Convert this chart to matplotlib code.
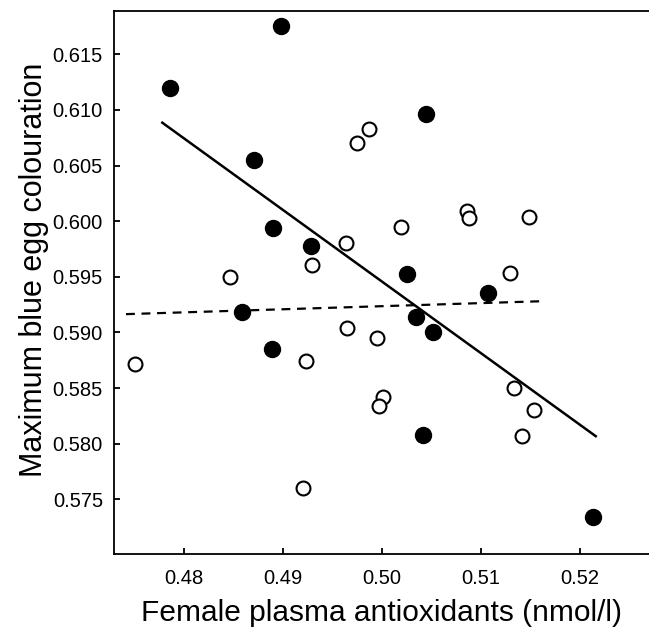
import matplotlib
matplotlib.use("Agg")
import matplotlib.pyplot as plt
import numpy as np

plt.rcParams['font.family'] = ['Liberation Sans', 'DejaVu Sans']

# Filled circles
filled_x = [0.47859, 0.48980, 0.48707, 0.48900, 0.49283, 0.48586, 0.48889,
            0.50444, 0.50249, 0.51074, 0.50340, 0.50512, 0.50411, 0.52128]
filled_y = [0.61193, 0.61750, 0.60546, 0.59934, 0.59773, 0.59187, 0.58855,
            0.60967, 0.59521, 0.59350, 0.59141, 0.59006, 0.58082, 0.57343]

# Open circles
open_x = [0.47502, 0.48465, 0.49290, 0.49229, 0.49205, 0.49747, 0.49869,
          0.49640, 0.50195, 0.50856, 0.50879, 0.51488, 0.51293, 0.49650,
          0.49953, 0.50013, 0.49973, 0.51333, 0.51539, 0.51411]
open_y = [0.58718, 0.59500, 0.59604, 0.58741, 0.57603, 0.60705, 0.60824,
          0.59802, 0.59946, 0.60093, 0.60024, 0.60033, 0.59530, 0.59038,
          0.58952, 0.58421, 0.58334, 0.58496, 0.58298, 0.58067]

# Regression lines (endpoints)
solid_x = [0.47781, 0.52159]
solid_y = [0.60885, 0.58067]
dashed_x = [0.47414, 0.51640]
dashed_y = [0.59164, 0.59281]

xticks = [0.48, 0.49, 0.50, 0.51, 0.52]
xtick_labels = ["0.48", "0.49", "0.50", "0.51", "0.52"]
yticks = [0.575, 0.580, 0.585, 0.590, 0.595, 0.600, 0.605, 0.610, 0.615]
ytick_labels = ["0.575", "0.580", "0.585", "0.590", "0.595", "0.600", "0.605", "0.610", "0.615"]

fig = plt.figure(figsize=(6.49, 6.32), dpi=100)
ax = fig.add_axes([114/649, 1-554/632, 1-114/649, (554-11)/632])

ax.plot(solid_x, solid_y, color='black', lw=1.8, zorder=2)
ax.plot(dashed_x, dashed_y, color='black', lw=1.6, ls=(0, (4, 3)), zorder=2)
ax.plot(open_x, open_y, 'o', ms=10, mfc='white', mec='black', mew=1.5, ls='none', zorder=3)
ax.plot(filled_x, filled_y, 'o', ms=11.5, mfc='black', mec='black', ls='none', zorder=4)

ax.set_xlim(0.47293, 0.52697)
ax.set_ylim(0.57008, 0.61889)
ax.set_xticks(xticks)
ax.set_xticklabels(xtick_labels)
ax.set_yticks(yticks)
ax.set_yticklabels(ytick_labels)

ax.tick_params(direction='in', length=4, width=1.3, labelsize=14.5)
ax.tick_params(axis='x', pad=11)
ax.tick_params(axis='y', pad=8)

for s in ['left', 'bottom', 'top']:
    ax.spines[s].set_linewidth(1.3)
ax.spines['right'].set_visible(False)

ax.set_xlabel("Female plasma antioxidants (nmol/l)", fontsize=21.5)
ax.set_ylabel("Maximum blue egg colouration", fontsize=22)
ax.xaxis.set_label_coords(0.5, -0.083)
ax.yaxis.set_label_coords(-0.122, 0.523)

fig.savefig("out.png", dpi=100)
